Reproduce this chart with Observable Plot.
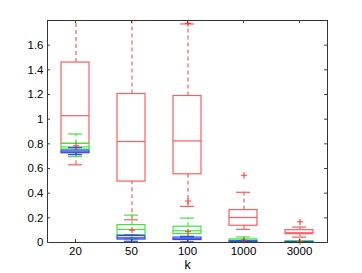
<!DOCTYPE html>
<html><head><meta charset="utf-8">
<script src="https://cdn.jsdelivr.net/npm/d3@7"></script>
<script src="https://cdn.jsdelivr.net/npm/@observablehq/plot@0.6"></script>
<style>body{margin:0;background:#fff}#c{position:absolute;left:0;top:0}</style>
</head><body><div id="c"></div>
<script>
const ks = ["20", "50", "100", "1000", "3000"];
const yTicks = [0, 0.2, 0.4, 0.6, 0.8, 1, 1.2, 1.4, 1.6];

const redLo  = [0.63, 0.184, 0.293, 0.106, 0.043];
const redQ1  = [0.80, 0.494, 0.553, 0.136, 0.068];
const redMed = [1.028, 0.819, 0.824, 0.203, 0.079];
const redQ3  = [1.459, 1.204, 1.188, 0.263, 0.100];
const redHi  = [1.95, 1.95, 1.772, 0.407, 0.125];
const redOutK = ["20", "50", "100", "100", "100", "1000", "1000", "3000", "3000"];
const redOutV = [0.785, 0.10, 1.777, 0.336, 0.087, 0.545, 0.02, 0.168, 0.008];

const greenLo  = [0.697, 0.03, 0.04, 0.005, 0.002];
const greenQ1  = [0.754, 0.060, 0.068, 0.012, 0.005];
const greenMed = [0.775, 0.106, 0.095, 0.018, 0.008];
const greenQ3  = [0.80, 0.141, 0.128, 0.025, 0.012];
const greenHi  = [0.88, 0.222, 0.198, 0.045, 0.015];

const blueLo  = [0.713, 0.01, 0.005, 0.001, 0.0005];
const blueQ1  = [0.724, 0.024, 0.02, 0.003, 0.001];
const blueMed = [0.735, 0.038, 0.03, 0.006, 0.002];
const blueQ3  = [0.745, 0.052, 0.04, 0.009, 0.003];
const blueHi  = [0.77, 0.06, 0.05, 0.012, 0.004];

const series = [
  {name: "red", color: "#ff5c5c", lo: redLo, q1: redQ1, med: redMed, q3: redQ3, hi: redHi},
  {name: "green", color: "#3fe83f", lo: greenLo, q1: greenQ1, med: greenMed, q3: greenQ3, hi: greenHi},
  {name: "blue", color: "#3344ee", lo: blueLo, q1: blueQ1, med: blueMed, q3: blueQ3, hi: blueHi}
];

const plus = {draw(ctx, size) {
  const r = Math.sqrt(size) / 2;
  ctx.moveTo(-r, 0); ctx.lineTo(r, 0);
  ctx.moveTo(0, -r); ctx.lineTo(0, r);
}};

const font = "Liberation Sans, Arial, sans-serif";
const marks = [];
for (const s of series) {
  const rows = ks.map((k, i) => ({k, lo: s.lo[i], q1: s.q1[i], med: s.med[i], q3: s.q3[i], hi: Math.min(s.hi[i], 1.8)}));
  marks.push(
    Plot.ruleX(rows, {x: "k", y1: "q3", y2: "hi", stroke: s.color, strokeWidth: 1.2, strokeDasharray: "4,3", dx: 0.5}),
    Plot.ruleX(rows, {x: "k", y1: "lo", y2: "q1", stroke: s.color, strokeWidth: 1.2, strokeDasharray: "4,3", dx: 0.5}),
    Plot.tickY(rows.filter(r => r.hi < 1.8), {x: "k", y: "hi", stroke: s.color, strokeWidth: 1.2, insetLeft: 21, insetRight: 21}),
    Plot.tickY(rows, {x: "k", y: "lo", stroke: s.color, strokeWidth: 1.2, insetLeft: 21, insetRight: 21}),
    Plot.barY(rows, {x: "k", y1: "q1", y2: "q3", fill: "none", stroke: s.color, strokeWidth: 1.2, insetLeft: 14, insetRight: 14}),
    Plot.tickY(rows, {x: "k", y: "med", stroke: s.color, strokeWidth: 1.2, insetLeft: 14, insetRight: 14})
  );
}
const redOut = redOutK.map((k, i) => ({k, v: redOutV[i]}));
marks.push(Plot.dot(redOut, {x: "k", y: "v", symbol: plus, r: 3.5, fill: "none", stroke: "#ff3c3c", strokeWidth: 1.1, dx: 0.5}));

const chart = Plot.plot({
  width: 362, height: 273,
  marginLeft: 47, marginRight: 35, marginTop: 20, marginBottom: 31,
  style: {fontFamily: font, fontSize: "11px", color: "#000", background: "#fff", overflow: "visible"},
  x: {type: "band", domain: ks, padding: 0},
  y: {domain: [0, 1.8]},
  marks: [
    ...marks,
    Plot.frame({stroke: "#333"}),
    Plot.tickY(yTicks, {y: d => d, stroke: "#444", insetRight: 277}),
    Plot.tickY(yTicks, {y: d => d, stroke: "#444", insetLeft: 277}),
    Plot.tickX(ks, {x: d => d, stroke: "#444", insetBottom: 219}),
    Plot.tickX(ks, {x: d => d, stroke: "#444", insetTop: 219}),
    Plot.axisY({anchor: "left", ticks: yTicks, tickSize: 0, tickPadding: 4, fontSize: 11.5, tickFormat: d => String(+d.toFixed(1)), label: null}),
    Plot.axisX({anchor: "bottom", tickSize: 0, tickPadding: 4, fontSize: 11.5, label: null}),
    Plot.text(["k"], {frameAnchor: "bottom", dy: 26, fontSize: 12.5})
  ]
});
document.getElementById("c").appendChild(chart);
</script></body></html>
